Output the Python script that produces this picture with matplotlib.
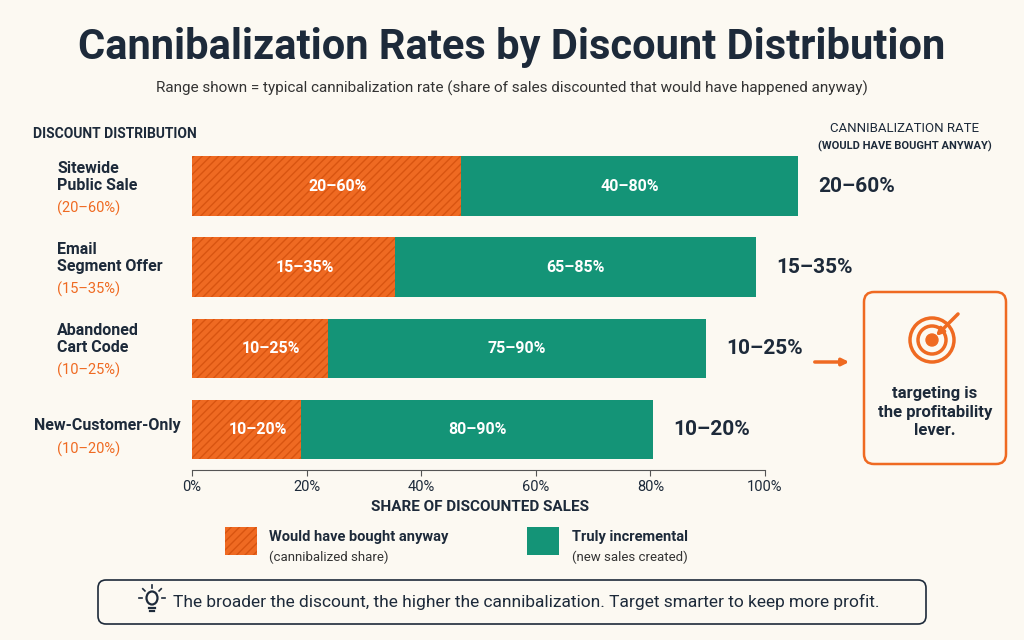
import matplotlib.pyplot as plt
from matplotlib.patches import FancyBboxPatch, Circle, Ellipse
import numpy as np

categories = ["Sitewide\nPublic Sale", "Email\nSegment Offer", "Abandoned\nCart Code", "New-Customer-Only"]
ranges = ["(20–60%)", "(15–35%)", "(10–25%)", "(10–20%)"]
cannib = [47, 35.4, 23.7, 19]
incremental = [58.8, 63, 66, 61.5]
cannib_labels = ["20–60%", "15–35%", "10–25%", "10–20%"]
incr_labels = ["40–80%", "65–85%", "75–90%", "80–90%"]
xticks = [0, 20, 40, 60, 80, 100]

ORANGE = "#ef6a22"
GREEN = "#149477"
BG = "#fcf9f2"
DARK = "#1d2a3a"

plt.rcParams['font.family'] = ['Roboto', 'DejaVu Sans']
fig = plt.figure(figsize=(10.24, 6.4), dpi=100, facecolor=BG)
# axes spans 0..110 so the first bar can run past 100%
ax = fig.add_axes([192/1024, 1-470/640, (765-192)*1.1/1024, (470-150)/640], facecolor="none")

y = np.arange(len(categories))[::-1] * 1.0
ax.barh(y, cannib, height=0.74, color=ORANGE, hatch='////', edgecolor="#d85410", linewidth=0)
ax.barh(y, incremental, left=cannib, height=0.74, color=GREEN, edgecolor="none")
for i in range(len(categories)):
    ax.text(cannib[i] / 2 + 2, y[i], cannib_labels[i], color="white", fontsize=11.5,
            fontweight="bold", ha="center", va="center")
    ax.text(cannib[i] + incremental[i] / 2, y[i], incr_labels[i], color="white", fontsize=11.5,
            fontweight="bold", ha="center", va="center")
    ax.text(cannib[i] + incremental[i] + 3.5, y[i], cannib_labels[i], color=DARK, fontsize=15,
            fontweight="bold", ha="left", va="center")
    two = "\n" in categories[i]
    ax.text(-23.5 if two else -27.5, y[i] + (0.12 if two else 0.05), categories[i], color=DARK,
            fontsize=11.5, fontweight="bold", ha="left", va="center", linespacing=1.15,
            clip_on=False)
    ax.text(-23.5, y[i] - (0.27 if two else 0.24), ranges[i], color=ORANGE, fontsize=10.5,
            ha="left", va="center")

ax.set_xlim(0, 110)
ax.set_ylim(-0.5, 3.45)
ax.set_xticks(xticks)
ax.set_xticklabels([f"{t}%" for t in xticks], fontsize=10.5, color=DARK)
ax.set_yticks([])
for s in ["top", "right", "left"]:
    ax.spines[s].set_visible(False)
ax.spines["bottom"].set_color("#555555")
ax.spines["bottom"].set_bounds(0, 100)
ax.tick_params(axis="x", length=4, color="#555555")

fig.text(0.5, 0.925, "Cannibalization Rates by Discount Distribution", ha="center", va="center",
         fontsize=30, fontweight="bold", color=DARK)
fig.text(0.5, 0.862, "Range shown = typical cannibalization rate (share of sales discounted that would have happened anyway)",
         ha="center", va="center", fontsize=11, color="#333333")
fig.text(33/1024, 1-134/640, "DISCOUNT DISTRIBUTION", fontsize=10, fontweight="bold", color=DARK, va="center")
fig.text(905/1024, 1-128/640, "CANNIBALIZATION RATE", fontsize=9.5, color=DARK, ha="center", va="center")
fig.text(905/1024, 1-146/640, "(WOULD HAVE BOUGHT ANYWAY)", fontsize=8, fontweight="bold", color=DARK, ha="center", va="center")
fig.text(480/1024, 1-507/640, "SHARE OF DISCOUNTED SALES", fontsize=11, fontweight="bold", color=DARK, ha="center", va="center")

# legend and annotations in pixel coordinates
la = fig.add_axes([0, 0, 1, 1], facecolor="none")
la.set_xlim(0, 1024); la.set_ylim(640, 0); la.axis("off")
la.add_patch(plt.Rectangle((225, 527), 32, 28, facecolor=ORANGE, hatch="////", edgecolor="#d85410", linewidth=0))
la.text(269, 537, "Would have bought anyway", fontsize=10.5, fontweight="bold", color=DARK, va="center")
la.text(269, 557, "(cannibalized share)", fontsize=9.5, color="#333333", va="center")
la.add_patch(plt.Rectangle((527, 527), 32, 28, facecolor=GREEN, edgecolor="none"))
la.text(572, 537, "Truly incremental", fontsize=10.5, fontweight="bold", color=DARK, va="center")
la.text(572, 557, "(new sales created)", fontsize=9.5, color="#333333", va="center")

# bottom note with a drawn lightbulb
la.add_patch(FancyBboxPatch((98, 580), 828, 44, boxstyle="round,pad=0,rounding_size=8",
                            facecolor=BG, edgecolor=DARK, linewidth=1.2))
la.add_patch(Ellipse((152, 598), 11, 13, facecolor="none", edgecolor=DARK, linewidth=1.6))
la.plot([149, 155], [608, 608], color=DARK, lw=1.6)
la.plot([150, 154], [611, 611], color=DARK, lw=1.6)
for a in np.radians([90, 135, 45, 180, 0]):
    la.plot([152 + 10*np.cos(a), 152 + 13*np.cos(a)], [598 - 10*np.sin(a), 598 - 13*np.sin(a)], color=DARK, lw=1.2)
la.text(173, 602, "The broader the discount, the higher the cannibalization. Target smarter to keep more profit.",
        fontsize=12.5, color=DARK, va="center")

# callout box
la.add_patch(FancyBboxPatch((864, 292), 142, 172, boxstyle="round,pad=0,rounding_size=10",
                            facecolor=BG, edgecolor=ORANGE, linewidth=1.8))
for r in [22, 14]:
    la.add_patch(Circle((932, 340), r, facecolor="none", edgecolor=ORANGE, linewidth=2.5))
la.add_patch(Circle((932, 340), 6, color=ORANGE))
la.annotate("", xy=(934, 338), xytext=(960, 312), arrowprops=dict(arrowstyle="-|>", color=ORANGE, lw=2.5))
la.text(935, 412, "targeting is\nthe profitability\nlever.", fontsize=12, fontweight="bold", color=DARK,
        ha="center", va="center", linespacing=1.3)
la.annotate("", xy=(852, 362), xytext=(812, 362), arrowprops=dict(arrowstyle="-|>", color=ORANGE, lw=2.5))

fig.savefig("out.png", dpi=100, facecolor=BG)
